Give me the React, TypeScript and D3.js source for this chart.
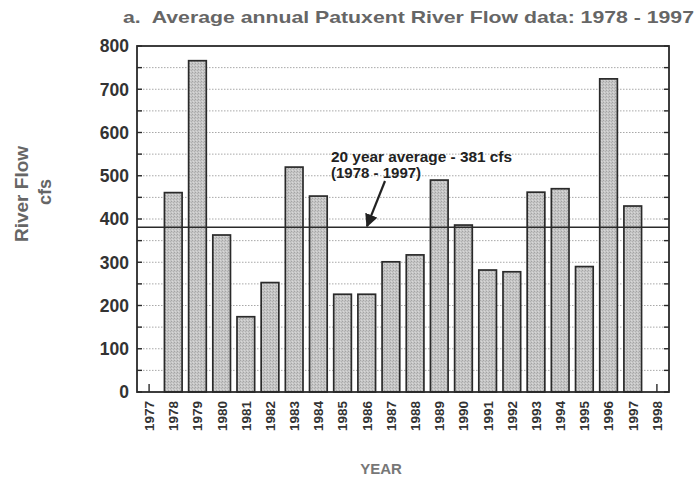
import React from "react";
import * as d3 from "d3";

// Average annual flow, cfs
const years: string[] = [
  "1977", "1978", "1979", "1980", "1981", "1982", "1983", "1984", "1985", "1986", "1987",
  "1988", "1989", "1990", "1991", "1992", "1993", "1994", "1995", "1996", "1997", "1998",
];
const flowYears: string[] = [
  "1978", "1979", "1980", "1981", "1982", "1983", "1984", "1985", "1986", "1987",
  "1988", "1989", "1990", "1991", "1992", "1993", "1994", "1995", "1996", "1997",
];
const flowValues: number[] = [
  461, 766, 363, 174, 253, 520, 453, 226, 226, 301,
  317, 490, 386, 282, 278, 462, 470, 290, 724, 430,
];
const yTicks: number[] = [0, 100, 200, 300, 400, 500, 600, 700, 800];
const averageFlow = 381;

const W = 696;
const H = 483;
const M = { left: 137, right: 669, top: 46, bottom: 392 };

export default function App() {
  const x = d3
    .scaleBand<string>()
    .domain(years)
    .range([M.left, M.right])
    .paddingInner(0.27)
    .paddingOuter(0.135);
  const xc = (d: string) => (x(d) as number) + x.bandwidth() / 2;
  const y = d3.scaleLinear().domain([0, 800]).range([M.bottom, M.top]);
  const minor = d3.range(0, 801, 50);

  const font = "'Liberation Sans', Arial, Helvetica, sans-serif";
  const avgY = y(averageFlow);

  return (
    <svg
      width={W}
      height={H}
      style={{ position: "absolute", left: 0, top: 0, background: "#fff" }}
      fontFamily={font}
    >
      <defs>
        <pattern id="stipple" width="3" height="3" patternUnits="userSpaceOnUse">
          <rect width="3" height="3" fill="#c6c6c6" />
          <rect x="0" y="0" width="1" height="1" fill="#a4a4a4" />
          <rect x="2" y="1" width="1" height="1" fill="#b0b0b0" />
          <rect x="1" y="2" width="1" height="1" fill="#d8d8d8" />
        </pattern>
        <marker
          id="arrowHead"
          viewBox="0 0 10 10"
          refX="9"
          refY="5"
          markerWidth="6"
          markerHeight="6"
          orient="auto"
          markerUnits="strokeWidth"
        >
          <path d="M0,0 L10,5 L0,10 z" fill="#222" />
        </marker>
      </defs>

      {/* title */}
      <text
        x={123}
        y={23}
        fontSize={17}
        fontWeight="bold"
        fill="#666"
        textLength={571}
        lengthAdjust="spacingAndGlyphs"
        style={{ whiteSpace: "pre" }}
      >
        {"a.  Average annual Patuxent River Flow data: 1978 - 1997"}
      </text>

      {/* dotted grid */}
      {minor
        .filter((v) => v > 0 && v < 800)
        .map((v) => (
          <line
            key={"g" + v}
            x1={M.left}
            x2={M.right}
            y1={y(v)}
            y2={y(v)}
            stroke="#a8a8a8"
            strokeWidth={1}
            strokeDasharray="1.5,1.5"
          />
        ))}

      {/* bars */}
      {flowYears.map((yr, i) => (
        <rect
          key={yr}
          x={x(yr)}
          y={y(flowValues[i])}
          width={x.bandwidth()}
          height={y(0) - y(flowValues[i])}
          fill="url(#stipple)"
          stroke="#2a2a2a"
          strokeWidth={1.7}
        />
      ))}

      {/* average line */}
      <line
        x1={M.left}
        x2={M.right}
        y1={avgY}
        y2={avgY}
        stroke="#2a2a2a"
        strokeWidth={1.6}
      />

      {/* frame */}
      <rect
        x={M.left}
        y={M.top}
        width={M.right - M.left}
        height={M.bottom - M.top}
        fill="none"
        stroke="#2a2a2a"
        strokeWidth={1.8}
      />

      {/* inward ticks on left and right */}
      {minor.map((v) => (
        <g key={"t" + v}>
          <line x1={M.left} x2={M.left + 5} y1={y(v)} y2={y(v)} stroke="#2a2a2a" strokeWidth={1.4} />
          <line x1={M.right} x2={M.right - 5} y1={y(v)} y2={y(v)} stroke="#2a2a2a" strokeWidth={1.4} />
        </g>
      ))}
      {/* bottom ticks at the outer years */}
      {[years[0], years[years.length - 1]].map((yr) => (
        <line
          key={"bt" + yr}
          x1={xc(yr)}
          x2={xc(yr)}
          y1={M.bottom}
          y2={M.bottom - 8}
          stroke="#2a2a2a"
          strokeWidth={1.4}
        />
      ))}

      {/* y tick labels */}
      {yTicks.map((v) => (
        <text
          key={"yl" + v}
          x={129}
          y={y(v)}
          dy="0.36em"
          textAnchor="end"
          fontSize={17.5}
          fontWeight="bold"
          fill="#333"
        >
          {v}
        </text>
      ))}

      {/* x tick labels */}
      {years.map((yr) => (
        <text
          key={"xl" + yr}
          transform={`translate(${xc(yr)},${M.bottom + 9}) rotate(-90)`}
          textAnchor="end"
          dy="0.36em"
          fontSize={13.5}
          fontWeight="bold"
          fill="#333"
        >
          {yr}
        </text>
      ))}

      {/* axis titles */}
      <text
        transform="translate(28,194) rotate(-90)"
        textAnchor="middle"
        fontSize={19}
        fontWeight="bold"
        fill="#666"
      >
        River Flow
      </text>
      <text
        transform="translate(51,192) rotate(-90)"
        textAnchor="middle"
        fontSize={18}
        fontWeight="bold"
        fill="#666"
      >
        cfs
      </text>
      <text x={381} y={474} textAnchor="middle" fontSize={15} fontWeight="bold" fill="#777">
        YEAR
      </text>

      {/* average annotation */}
      <text x={331} y={162} fontSize={15} fontWeight="bold" fill="#222" textLength={181} lengthAdjust="spacingAndGlyphs">
        20 year average - {averageFlow} cfs
      </text>
      <text x={331} y={178} fontSize={15} fontWeight="bold" fill="#222">
        (1978 - 1997)
      </text>
      <line
        x1={385}
        y1={181}
        x2={367}
        y2={avgY - 1}
        stroke="#222"
        strokeWidth={2.2}
        markerEnd="url(#arrowHead)"
      />
    </svg>
  );
}
